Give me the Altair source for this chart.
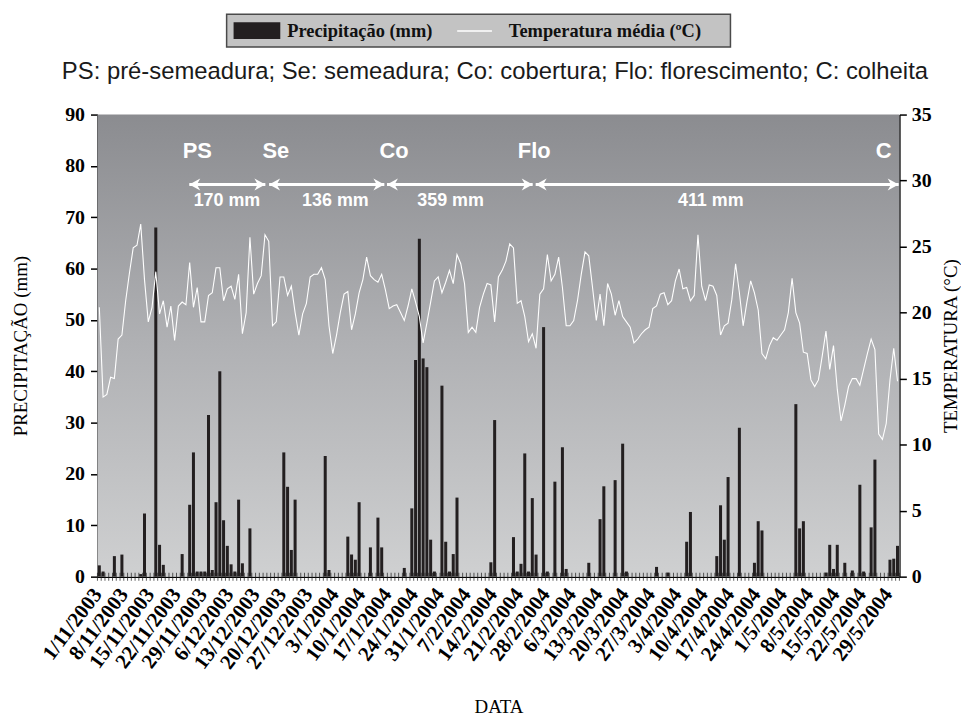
import altair as alt
import pandas as pd

# ---------------- data ----------------
N_DAYS = 213  # 1/11/2003 .. 31/5/2004

tick_labels = ["1/11/2003", "8/11/2003", "15/11/2003", "22/11/2003", "29/11/2003",
               "6/12/2003", "13/12/2003", "20/12/2003", "27/12/2003", "3/1/2004",
               "10/1/2004", "17/1/2004", "24/1/2004", "31/1/2004", "7/2/2004",
               "14/2/2004", "21/2/2004", "28/2/2004", "6/3/2004", "13/3/2004",
               "20/3/2004", "27/3/2004", "3/4/2004", "10/4/2004", "17/4/2004",
               "24/4/2004", "1/5/2004", "8/5/2004", "15/5/2004", "22/5/2004",
               "29/5/2004"]

# daily mean temperature (deg C), day 0 = 1/11/2003
temp = [
    20.4, 13.6, 13.8, 15.1, 15.0, 18.0, 18.3, 20.9, 23.0, 24.9,
    25.1, 26.7, 22.5, 19.3, 20.4, 23.1, 19.9, 20.9, 18.9, 20.5,
    17.9, 20.5, 20.8, 20.6, 23.8, 20.4, 21.9, 19.3, 19.3, 21.3,
    21.5, 23.4, 23.4, 20.9, 21.8, 22.0, 21.0, 22.9, 18.4, 20.0,
    25.7, 21.4, 22.2, 22.8, 25.9, 25.4, 19.0, 19.3, 22.7, 22.7,
    21.3, 22.0, 20.0, 18.3, 19.9, 20.7, 22.7, 22.9, 22.9, 23.4,
    22.5, 19.0, 16.9, 18.3, 20.0, 21.4, 21.6, 18.7, 19.9, 21.5,
    22.5, 24.2, 22.8, 22.5, 22.3, 22.9, 21.7, 20.3, 20.5, 20.6,
    20.0, 19.4, 20.5, 21.8, 20.8, 19.7, 17.7, 19.2, 20.8, 22.4,
    22.7, 21.5, 22.3, 23.2, 22.2, 24.4, 23.7, 22.2, 18.5, 18.9,
    18.5, 20.4, 21.4, 22.2, 22.1, 19.3, 22.7, 23.2, 23.9, 25.2,
    24.9, 20.7, 20.9, 19.7, 17.8, 18.4, 17.3, 21.4, 21.8, 24.4,
    22.4, 22.9, 24.2, 21.9, 19.0, 19.0, 19.4, 20.9, 22.9, 24.6,
    24.3, 21.9, 19.4, 21.4, 19.0, 22.2, 21.4, 19.8, 20.9, 19.7,
    19.3, 18.9, 17.7, 18.0, 18.4, 18.7, 18.9, 20.3, 20.5, 21.4,
    21.5, 20.6, 20.9, 22.4, 23.3, 21.8, 21.9, 20.9, 21.3, 25.9,
    22.0, 20.9, 22.1, 22.0, 21.3, 18.3, 19.0, 19.2, 21.0, 23.7,
    21.5, 19.0, 20.8, 22.4, 21.5, 20.2, 16.9, 16.5, 17.5, 18.1,
    17.9, 18.3, 18.7, 20.0, 22.6, 20.0, 19.2, 17.0, 16.9, 14.9,
    14.4, 14.9, 16.7, 18.6, 15.7, 17.5, 14.2, 11.8, 13.0, 14.4,
    15.0, 15.0, 14.5, 15.7, 16.9, 18.0, 17.2, 10.8, 10.4, 11.6,
    14.9, 17.3, 14.8]

# daily rainfall (mm): day index and value (days not listed: no rain)
rain_days = [0, 1, 4, 6, 11, 12, 15, 16, 17, 22, 24, 25, 26, 27, 28, 29, 30, 31, 32, 33,
             34, 35, 36, 37, 38, 40, 49, 50, 51, 52, 60, 61, 66, 67, 68, 69, 72, 74, 75, 81,
             83, 84, 85, 86, 87, 88, 89, 91, 92, 93, 94, 95, 104, 105, 110, 111, 112, 113, 114, 115,
             116, 118, 119, 121, 123, 124, 130, 133, 134, 137, 139, 140, 148, 151, 156, 157, 164, 165, 166, 167,
             170, 174, 175, 176, 185, 186, 187, 193, 194, 195, 196, 198, 200, 202, 203, 205, 206, 210, 211, 212]
rain_vals = [2.2, 1.0, 4.0, 4.3, 0.5, 12.3, 68.0, 6.2, 2.3, 4.4, 14.0, 24.2, 1.0, 1.0, 1.0, 31.5, 1.3, 14.5, 40.0, 11.0,
             6.0, 2.4, 1.0, 15.0, 2.6, 9.4, 24.2, 17.5, 5.2, 15.0, 23.5, 1.3, 7.8, 4.3, 3.3, 14.5, 5.7, 11.5, 5.7, 1.7,
             13.3, 42.2, 65.8, 42.5, 40.8, 7.2, 1.0, 37.2, 6.8, 1.0, 4.4, 15.4, 2.8, 30.5, 7.7, 1.0, 2.5, 24.0, 1.0, 15.3,
             4.3, 48.6, 1.0, 18.5, 25.2, 1.5, 2.7, 11.2, 17.6, 18.8, 25.9, 1.0, 1.9, 0.8, 6.8, 12.6, 4.0, 13.9, 7.2, 19.4,
             29.0, 2.7, 10.8, 9.0, 33.6, 9.4, 10.8, 0.8, 6.2, 1.5, 6.2, 2.7, 1.2, 17.9, 1.0, 9.6, 22.8, 3.3, 3.5, 6.0]

# crop stages (day index of the boundaries) and rainfall per period
stage_names = ["PS", "Se", "Co", "Flo", "C"]
stage_label_day = [26.5, 47.4, 78.8, 116.0, 208.8]
arrow_start = [24.4, 45.6, 76.9, 116.4]
arrow_end = [44.6, 76.2, 115.6, 212.8]
period_labels = ["170 mm", "136 mm", "359 mm", "411 mm"]
period_label_day = [34.4, 63.2, 93.8, 162.9]
stage_label_mm = 82.8
arrow_mm = 76.4
period_label_mm = 73.2

# ---------------- tables ----------------
rain_df = pd.DataFrame({"day": rain_days, "mm": rain_vals})
rain_df["x0"] = rain_df["day"] + 0.1
rain_df["x1"] = rain_df["day"] + 0.9
rain_df["base"] = 0.0
temp_df = pd.DataFrame({"day": [d + 0.5 for d in range(N_DAYS)], "t": temp})
tick_df = pd.DataFrame({"day": list(range(N_DAYS + 1)), "zero": 0.0})
bg_df = pd.DataFrame({"x0": [0], "x1": [N_DAYS], "y0": [0], "y1": [90]})
stage_df = pd.DataFrame({"day": stage_label_day, "mm": stage_label_mm, "txt": stage_names})
arrow_df = pd.DataFrame({"s": arrow_start, "e": arrow_end, "mm": arrow_mm})
period_df = pd.DataFrame({"day": period_label_day, "mm": period_label_mm, "txt": period_labels})
one = pd.DataFrame({"a": [0]})

# ---------------- scales / axes ----------------
SERIF = "Liberation Serif"
SANS = "Liberation Sans"
xs = alt.Scale(domain=[0, N_DAYS], nice=False, zero=False)
ys = alt.Scale(domain=[0, 90], nice=False, zero=True)
ts = alt.Scale(domain=[0, 35], nice=False, zero=True)

label_js = "[" + ",".join("'%s'" % s for s in tick_labels) + "][round(datum.value / 7)]"
xaxis = alt.Axis(values=list(range(0, 211, 7)), labelExpr=label_js,
                 labelAngle=307, labelAlign="right", labelBaseline="middle",
                 labelFont=SERIF, labelFontWeight="bold", labelFontSize=21, labelColor="black",
                 labelPadding=14, labelOverlap=False, labelFlush=False, labelBound=False,
                 ticks=False, grid=False, domainColor="black", domainWidth=1.5,
                 title="DATA", titleFont=SERIF, titleFontWeight="normal", titleFontSize=19,
                 titleColor="black", titlePadding=25)
yaxis_left = alt.Axis(values=list(range(0, 91, 10)), grid=False, tickSize=7, tickColor="black",
                      domainColor="black", domainWidth=1.5, tickWidth=1.5,
                      labelFont=SERIF, labelFontWeight="bold", labelFontSize=20, labelColor="black",
                      labelPadding=6,
                      title="PRECIPITAÇÃO (mm)", titleFont=SERIF, titleFontWeight="normal",
                      titleFontSize=19, titleColor="black", titlePadding=34)
yaxis_right = alt.Axis(orient="right", values=list(range(0, 36, 5)), grid=False, tickSize=7,
                       tickColor="black", domainColor="black", domainWidth=1.5, tickWidth=1.5,
                       labelFont=SERIF, labelFontWeight="bold", labelFontSize=20, labelColor="black",
                       labelPadding=5,
                       title="TEMPERATURA (°C)", titleFont=SERIF, titleFontWeight="normal",
                       titleFontSize=19, titleColor="black", titleAngle=270, titlePadding=29)

gradient = alt.LinearGradient(gradient="linear",
                              stops=[alt.GradientStop(color="#8b8c90", offset=0),
                                     alt.GradientStop(color="#b0b1b4", offset=0.5),
                                     alt.GradientStop(color="#cfd0d1", offset=1)],
                              x1=0, x2=0, y1=0, y2=1)

# ---------------- layers ----------------
bg = alt.Chart(bg_df).mark_rect(color=gradient).encode(
    x=alt.X("x0:Q", scale=xs, axis=xaxis), x2="x1:Q",
    y=alt.Y("y0:Q", scale=ys, axis=None), y2="y1:Q")

bars = alt.Chart(rain_df).mark_rect(color="#231f20").encode(
    x=alt.X("x0:Q", scale=xs, axis=xaxis), x2="x1:Q",
    y=alt.Y("mm:Q", scale=ys, axis=yaxis_left), y2="base:Q")

ticks = alt.Chart(tick_df).mark_tick(orient="vertical", size=8, thickness=1, color="#1a1a1a").encode(
    x=alt.X("day:Q", scale=xs, axis=xaxis),
    y=alt.Y("zero:Q", scale=ys, axis=None))

line = alt.Chart(temp_df).mark_line(color="white", strokeWidth=1.1).encode(
    x=alt.X("day:Q", scale=xs, axis=xaxis),
    y=alt.Y("t:Q", scale=ts, axis=yaxis_right))

arrows = alt.Chart(arrow_df).mark_rule(color="white", strokeWidth=3).encode(
    x=alt.X("s:Q", scale=xs, axis=xaxis), x2="e:Q",
    y=alt.Y("mm:Q", scale=ys, axis=None))

RIGHT_HEAD = "M0,0 L-2,-1.1 L-1.4,0 L-2,1.1 Z"
LEFT_HEAD = "M0,0 L2,-1.1 L1.4,0 L2,1.1 Z"
heads_r = alt.Chart(arrow_df).mark_point(shape=RIGHT_HEAD, size=121, filled=True, color="white",
                                         opacity=1, strokeWidth=0).encode(
    x=alt.X("e:Q", scale=xs, axis=xaxis), y=alt.Y("mm:Q", scale=ys, axis=None))
heads_l = alt.Chart(arrow_df).mark_point(shape=LEFT_HEAD, size=121, filled=True, color="white",
                                         opacity=1, strokeWidth=0).encode(
    x=alt.X("s:Q", scale=xs, axis=xaxis), y=alt.Y("mm:Q", scale=ys, axis=None))

stage_txt = alt.Chart(stage_df).mark_text(font=SANS, fontWeight="bold", fontSize=22, color="white",
                                          baseline="middle").encode(
    x=alt.X("day:Q", scale=xs, axis=xaxis), y=alt.Y("mm:Q", scale=ys, axis=None), text="txt:N")

period_txt = alt.Chart(period_df).mark_text(font=SANS, fontWeight="bold", fontSize=18, color="white",
                                            baseline="middle").encode(
    x=alt.X("day:Q", scale=xs, axis=xaxis), y=alt.Y("mm:Q", scale=ys, axis=None), text="txt:N")

# custom legend box above the plot
leg_box = alt.Chart(one).mark_rect(fill="#c3c3c3", stroke="#4a4a4a", strokeWidth=1.5).encode(
    x=alt.value(130), x2=alt.value(637), y=alt.value(-101), y2=alt.value(-68))
leg_sw = alt.Chart(one).mark_rect(fill="#231f20").encode(
    x=alt.value(137), x2=alt.value(184), y=alt.value(-93), y2=alt.value(-76))
leg_line = alt.Chart(one).mark_rule(color="white", strokeWidth=1.5).encode(
    x=alt.value(362), x2=alt.value(397), y=alt.value(-84))
leg_t1 = alt.Chart(one).mark_text(align="left", baseline="middle", font=SERIF, fontWeight="bold",
                                  fontSize=18.5, color="#111111").encode(
    x=alt.value(191), y=alt.value(-84), text=alt.value("Precipitação (mm)"))
leg_t2 = alt.Chart(one).mark_text(align="left", baseline="middle", font=SERIF, fontWeight="bold",
                                  fontSize=18.5, color="#111111").encode(
    x=alt.value(414), y=alt.value(-84), text=alt.value("Temperatura média (ºC)"))
subtitle = alt.Chart(one).mark_text(align="center", baseline="middle", font=SANS, fontSize=24,
                                    color="#1a1a1a").encode(
    x=alt.value(400), y=alt.value(-43),
    text=alt.value("PS: pré-semeadura; Se: semeadura; Co: cobertura; Flo: florescimento; C: colheita"))

chart = alt.layer(
    bg, bars, ticks, line, arrows, heads_r, heads_l, stage_txt, period_txt,
    leg_box, leg_sw, leg_line, leg_t1, leg_t2, subtitle
).resolve_scale(y="independent").properties(
    width=807, height=465,
    padding={"left": 90, "top": 105, "right": 62, "bottom": 140},
    autosize=alt.AutoSizeParams(type="none"),
    background="white",
).configure_view(stroke=None)

chart.save("out.html", embed_options={"renderer": "svg", "actions": False})
